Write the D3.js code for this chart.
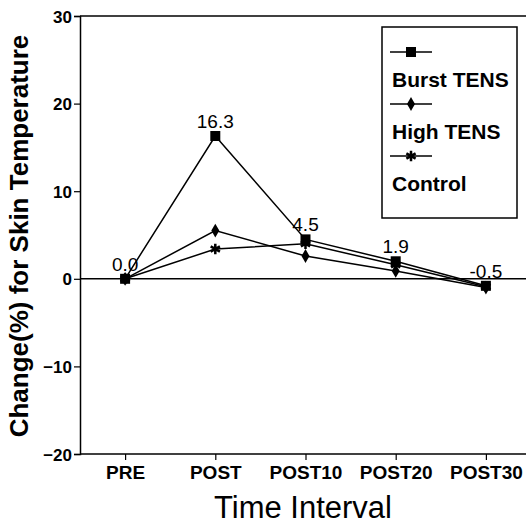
<!DOCTYPE html>
<html>
<head>
<meta charset="utf-8">
<script src="https://cdn.jsdelivr.net/npm/d3@7"></script>
<style>
  body { margin: 0; background: #fff; }
  svg { display: block; font-family: "Liberation Sans", Arial, sans-serif; }
</style>
</head>
<body>
<svg id="chart"></svg>
<script>
const width = 526;
const height = 530;

const timeIntervals = ["PRE", "POST", "POST10", "POST20", "POST30"];
const burstTens = [0, 16.3, 4.5, 2.0, -0.8];
const highTens = [0, 5.5, 2.6, 0.9, -1.0];
const control = [0, 3.4, 4.0, 1.6, -0.9];
const burstLabels = ["0.0", "16.3", "4.5", "1.9", "-0.5"];
const yTicks = [-20, -10, 0, 10, 20, 30];

const svg = d3.select("#chart")
  .attr("width", width)
  .attr("height", height);

const x = d3.scalePoint()
  .domain(timeIntervals)
  .range([80, 531])
  .padding(0.5);

const y = d3.scaleLinear()
  .domain([-20, 30])
  .range([454, 16]);

// Frame: top line and zero line
svg.append("line")
  .attr("x1", 80).attr("x2", width)
  .attr("y1", y(30)).attr("y2", y(30))
  .attr("stroke", "#000").attr("stroke-width", 1.5);

svg.append("line")
  .attr("x1", 80).attr("x2", width)
  .attr("y1", y(0)).attr("y2", y(0))
  .attr("stroke", "#000").attr("stroke-width", 1.5);

// Axes
const yAxis = svg.append("g")
  .attr("transform", "translate(80,0)")
  .call(d3.axisLeft(y).tickValues(yTicks).tickSize(6).tickPadding(2));

const xAxis = svg.append("g")
  .attr("transform", `translate(0,${y(-20)})`)
  .call(d3.axisBottom(x).tickSize(6).tickPadding(6));

xAxis.select(".domain").attr("d", `M80,0H${width}`);

[xAxis, yAxis].forEach(g => {
  g.select(".domain").attr("stroke-width", 1.5);
  g.selectAll(".tick line").attr("stroke-width", 1.2);
  g.selectAll("text")
    .attr("fill", "#000")
    .style("font-family", "'Liberation Sans', Arial, sans-serif")
    .style("font-weight", "bold");
});
yAxis.selectAll("text").style("font-size", "17px").attr("dy", "0.36em");
xAxis.selectAll("text").style("font-size", "19px");

// Axis titles
svg.append("text")
  .attr("transform", "translate(28,236) rotate(-90)")
  .attr("text-anchor", "middle")
  .style("font-size", "26px")
  .style("font-weight", "bold")
  .text("Change(%) for Skin Temperature");

svg.append("text")
  .attr("x", 303)
  .attr("y", 518)
  .attr("text-anchor", "middle")
  .style("font-size", "31px")
  .text("Time Interval");

// Series
const series = [
  { name: "Burst TENS", values: burstTens, symbol: d3.symbolSquare, size: 100 },
  { name: "High TENS", values: highTens, symbol: d3.symbolDiamond, size: 55 },
  { name: "Control", values: control, symbol: d3.symbolAsterisk, size: 80 }
];

const line = d3.line()
  .x((d, i) => x(timeIntervals[i]))
  .y(d => y(d));

series.forEach(s => {
  svg.append("path")
    .datum(s.values)
    .attr("fill", "none")
    .attr("stroke", "#000")
    .attr("stroke-width", 1.5)
    .attr("d", line);

  svg.selectAll(null)
    .data(s.values)
    .enter()
    .append("path")
    .attr("transform", (d, i) => `translate(${x(timeIntervals[i])},${y(d)})`)
    .attr("d", d3.symbol().type(s.symbol).size(s.size))
    .attr("fill", "#000")
    .attr("stroke", "#000")
    .attr("stroke-width", s.symbol === d3.symbolAsterisk ? 2.5 : 0);
});

// Value labels for Burst TENS
svg.selectAll(".value-label")
  .data(burstTens)
  .enter()
  .append("text")
  .attr("class", "value-label")
  .attr("x", (d, i) => x(timeIntervals[i]))
  .attr("y", d => y(d) - 8)
  .attr("text-anchor", "middle")
  .style("font-size", "19px")
  .text((d, i) => burstLabels[i]);

// Legend
const legend = svg.append("g").attr("transform", "translate(382,27)");

legend.append("rect")
  .attr("width", 135)
  .attr("height", 191)
  .attr("fill", "#fff")
  .attr("stroke", "#000")
  .attr("stroke-width", 1.5);

series.forEach((s, i) => {
  const row = legend.append("g").attr("transform", `translate(0,${25 + i * 52})`);
  row.append("line")
    .attr("x1", 8).attr("x2", 50)
    .attr("stroke", "#000").attr("stroke-width", 1.5);
  row.append("path")
    .attr("transform", "translate(29,0)")
    .attr("d", d3.symbol().type(s.symbol).size(s.size))
    .attr("fill", "#000")
    .attr("stroke", "#000")
    .attr("stroke-width", s.symbol === d3.symbolAsterisk ? 2.5 : 0);
  row.append("text")
    .attr("x", 10)
    .attr("y", 35)
    .style("font-size", "21px")
    .style("font-weight", "bold")
    .text(s.name);
});
</script>
</body>
</html>
